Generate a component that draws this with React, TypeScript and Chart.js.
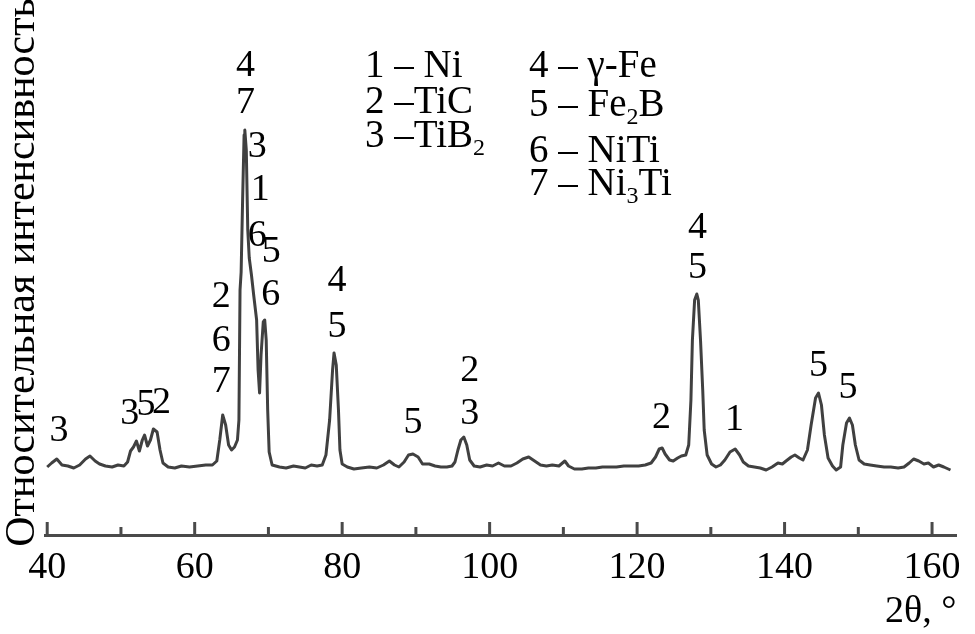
import React, { useEffect, useRef } from "react";
import { Chart, registerables } from "chart.js";

Chart.register(...registerables);

const FONT = "'Liberation Serif', 'Times New Roman', serif";

const twoTheta = [
  40.0, 40.6, 41.3, 42.0, 42.8, 43.6, 44.4, 45.2, 45.8, 46.5, 47.1, 47.9, 48.8, 49.6, 50.4, 50.9,
  51.3, 51.7, 52.1, 52.5, 52.9, 53.2, 53.6, 54.0, 54.4, 54.9, 55.3, 55.7, 56.4, 57.3, 58.2, 59.3,
  60.4, 61.5, 62.4, 63.0, 63.4, 63.8, 64.2, 64.6, 65.0, 65.4, 65.8, 66.0, 66.15, 66.3, 66.5, 66.7,
  66.8, 67.0, 67.2, 67.4, 67.7, 68.0, 68.4, 68.6, 68.8, 69.0, 69.3, 69.5, 69.7, 69.9, 70.1, 70.5,
  71.5, 72.4, 73.4, 74.2, 75.0, 75.8, 76.6, 77.3, 77.8, 78.3, 78.7, 78.9, 79.2, 79.5, 79.7, 80.0,
  80.7, 81.6, 82.6, 83.7, 84.7, 85.6, 86.4, 87.1, 87.7, 88.4, 89.0, 89.6, 90.3, 90.9, 91.8, 92.6,
  93.4, 94.2, 94.9, 95.3, 95.7, 96.1, 96.5, 96.9, 97.3, 97.9, 98.7, 99.6, 100.4, 101.2, 102.0, 102.9,
  103.7, 104.5, 105.3, 106.1, 106.9, 107.7, 108.5, 109.4, 110.2, 110.7, 111.5, 112.5, 113.4, 114.4, 115.3, 116.3,
  117.2, 118.2, 119.1, 120.2, 121.1, 121.9, 122.5, 123.0, 123.4, 123.8, 124.4, 124.9, 125.5, 126.0, 126.6, 127.0,
  127.3, 127.5, 127.8, 128.1, 128.3, 128.6, 128.9, 129.1, 129.5, 130.1, 130.7, 131.3, 131.9, 132.6, 133.3, 133.9,
  134.4, 135.1, 135.9, 136.7, 137.5, 138.3, 139.1, 139.7, 140.2, 140.9, 141.4, 142.0, 142.5, 143.1, 143.6, 144.2,
  144.6, 145.0, 145.4, 145.9, 146.5, 147.0, 147.6, 147.9, 148.4, 148.8, 149.2, 149.6, 150.1, 150.8, 151.6, 152.5,
  153.5, 154.4, 155.4, 156.2, 156.9, 157.5, 158.2, 158.9, 159.5, 160.2, 160.9, 161.6, 162.2, 162.5,
];

const intensity = [
  68, 72, 76, 70, 69, 67, 70, 76, 79, 74, 71, 69, 68, 70, 69, 73,
  84, 88, 94, 84, 95, 100, 89, 95, 106, 103, 85, 72, 68, 67, 69, 68,
  69, 70, 70, 74, 95, 120, 110, 90, 85, 88, 95, 115, 245, 263, 335, 400,
  405, 385, 305, 277, 260, 240, 215, 165, 142, 180, 213, 215, 195, 125, 83, 70,
  68, 67, 69, 68, 67, 70, 69, 70, 80, 115, 165, 182, 170, 125, 85, 71,
  68, 66, 67, 68, 67, 70, 74, 70, 68, 73, 80, 81, 78, 71, 71, 69,
  68, 68, 69, 73, 85, 95, 98, 90, 75, 69, 68, 70, 69, 72, 69, 69,
  72, 76, 78, 74, 70, 69, 70, 69, 74, 69, 66, 66, 67, 67, 68, 68,
  68, 69, 69, 69, 70, 72, 78, 86, 87, 81, 75, 74, 77, 79, 80, 90,
  135, 195, 235, 241, 235, 195, 145, 105, 80, 71, 68, 70, 75, 83, 86, 80,
  73, 69, 68, 67, 65, 68, 72, 71, 74, 78, 80, 77, 75, 85, 110, 137,
  142, 130, 100, 77, 69, 65, 68, 90, 112, 117, 110, 90, 75, 71, 70, 69,
  68, 68, 67, 68, 72, 76, 74, 71, 72, 68, 70, 68, 66, 65,
];

// x axis tick marks and labelled ticks
const xTickValues = [40, 50, 60, 70, 80, 90, 100, 110, 120, 130, 140, 150, 160];
const xLabelStep = 20;

// phase numbers written above the peaks (2θ, intensity level of label centre)
const peakLabelText = ["3", "3", "5", "2", "2", "6", "7", "4", "7", "3", "1", "6", "5", "6", "4", "5", "5", "2", "3", "2", "4", "5", "1", "5", "5"];
const peakLabelTheta = [41.6, 51.2, 53.4, 55.5, 63.6, 63.6, 63.6, 66.9, 66.9, 68.5, 68.9, 68.5, 70.4, 70.3, 79.3, 79.3, 89.6, 97.3, 97.3, 123.3, 128.2, 128.2, 133.2, 144.6, 148.6];
const peakLabelLevel = [104, 121, 130, 132, 238, 194, 153, 469, 432, 388, 345, 299, 283, 240, 254, 208, 112, 164, 121, 117, 307, 267, 115, 169, 147];

// phase key: [main text, subscript, text after subscript]
const legendColumn1 = [
  ["1 – Ni", "", ""],
  ["2 –TiC", "", ""],
  ["3 –TiB", "2", ""],
];
const legendColumn2 = [
  ["4 – γ-Fe", "", ""],
  ["5 – Fe", "2", "B"],
  ["6 – NiTi", "", ""],
  ["7 – Ni", "3", "Ti"],
];

const decorPlugin = {
  id: "xrdDecor",
  afterDraw(chart: any) {
    const ctx = chart.ctx as CanvasRenderingContext2D;
    const xs = chart.scales.x;
    const ys = chart.scales.y;
    const bottom = chart.chartArea.bottom;
    ctx.save();
    // inward tick marks
    ctx.strokeStyle = "#4a4a4a";
    ctx.lineWidth = 3;
    for (const v of xTickValues) {
      const px = xs.getPixelForValue(v);
      const len = v % xLabelStep === 0 ? 13 : 8;
      ctx.beginPath();
      ctx.moveTo(px, bottom);
      ctx.lineTo(px, bottom - len);
      ctx.stroke();
    }
    // peak labels
    ctx.fillStyle = "#000";
    ctx.font = `38px ${FONT}`;
    ctx.textAlign = "center";
    ctx.textBaseline = "middle";
    peakLabelText.forEach((t, i) => {
      ctx.fillText(t, xs.getPixelForValue(peakLabelTheta[i]), ys.getPixelForValue(peakLabelLevel[i]));
    });
    // phase key
    ctx.textAlign = "left";
    ctx.textBaseline = "alphabetic";
    const drawEntry = (entry: string[], x: number, y: number) => {
      ctx.font = `39px ${FONT}`;
      ctx.fillText(entry[0], x, y);
      let cx = x + ctx.measureText(entry[0]).width;
      if (entry[1]) {
        ctx.font = `24px ${FONT}`;
        ctx.fillText(entry[1], cx, y + 8);
        cx += ctx.measureText(entry[1]).width;
      }
      if (entry[2]) {
        ctx.font = `39px ${FONT}`;
        ctx.fillText(entry[2], cx, y);
      }
    };
    const col1Y = [77, 113, 147];
    const col2Y = [77, 116, 162, 195];
    legendColumn1.forEach((e, i) => drawEntry(e, 365, col1Y[i]));
    legendColumn2.forEach((e, i) => drawEntry(e, 529, col2Y[i]));
    ctx.restore();
  },
};

export default function App() {
  const ref = useRef<HTMLCanvasElement | null>(null);
  useEffect(() => {
    if (!ref.current) return;
    const points = twoTheta.map((t, i) => ({ x: t, y: intensity[i] }));
    const chart = new Chart(ref.current, {
      type: "line",
      data: {
        datasets: [
          {
            data: points,
            borderColor: "#404040",
            borderWidth: 3,
            pointRadius: 0,
            tension: 0,
            borderJoinStyle: "round",
            fill: false,
          },
        ],
      },
      options: {
        animation: false,
        responsive: false,
        devicePixelRatio: 1,
        layout: { padding: { top: 10, right: 17, left: 1, bottom: 0 } },
        plugins: { legend: { display: false }, tooltip: { enabled: false } },
        scales: {
          x: {
            type: "linear",
            min: 39.7,
            max: 163.3,
            afterBuildTicks: (scale: any) => {
              scale.ticks = xTickValues.map((v) => ({ value: v }));
            },
            ticks: {
              autoSkip: false,
              maxRotation: 0,
              padding: 14,
              color: "#000",
              font: { family: FONT, size: 38, lineHeight: 1 },
              callback: (v: any) => (Number(v) % xLabelStep === 0 ? String(v) : ""),
            },
            grid: { display: false, drawTicks: false },
            border: { display: true, color: "#4a4a4a", width: 3 },
            title: {
              display: true,
              text: "2θ, °",
              align: "end",
              color: "#000",
              font: { family: FONT, size: 38, lineHeight: 1 },
              padding: { top: -8, bottom: 3 },
            },
          },
          y: {
            min: 0,
            max: 525,
            ticks: { display: false },
            grid: { display: false, drawTicks: false },
            border: { display: false },
            title: {
              display: true,
              text: "Относительная интенсивность",
              color: "#000",
              font: { family: FONT, size: 42, lineHeight: 1 },
              padding: { top: 1, bottom: 1 },
            },
          },
        },
      },
      plugins: [decorPlugin],
    } as any);
    return () => chart.destroy();
  }, []);
  return (
    <div style={{ position: "fixed", left: 0, top: 0, width: 975, height: 634, background: "#fff" }}>
      <canvas ref={ref} width={975} height={634} style={{ display: "block" }} />
    </div>
  );
}
